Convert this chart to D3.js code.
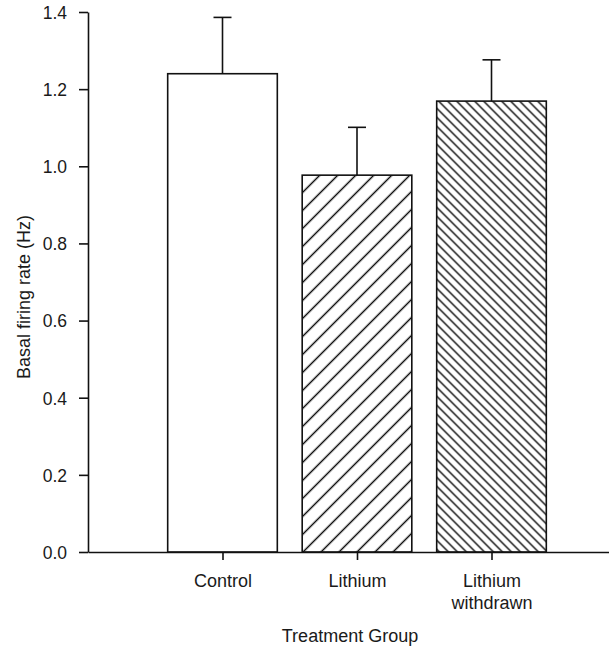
<!DOCTYPE html>
<html>
<head>
<meta charset="utf-8">
<script src="https://cdn.jsdelivr.net/npm/d3@7"></script>
<style>
  body { margin: 0; background: #fff; }
  svg text { font-family: "Liberation Sans", Arial, Helvetica, sans-serif; fill: #1a1a1a; }
</style>
</head>
<body>
<div id="chart"></div>
<script>
// values
var categories = ["Control", "Lithium", "Lithium withdrawn"];
var means = [1.24, 0.977, 1.169];
var sems = [0.146, 0.124, 0.107];
var yTicks = [0.0, 0.2, 0.4, 0.6, 0.8, 1.0, 1.2, 1.4];

function basalChart () {

  var width = 609, height = 652;

  var svg = d3.select("#chart")
    .append("svg")
    .attr("width", width)
    .attr("height", height);

  var defs = svg.append("defs");

  // hatch fills: "/" for lithium, dense "\" for withdrawn
  function hatch(id, gap, angle) {
    var p = defs.append("pattern")
      .attr("id", id)
      .attr("patternUnits", "userSpaceOnUse")
      .attr("width", gap)
      .attr("height", gap)
      .attr("patternTransform", "rotate(" + angle + ")");
    p.append("rect").attr("width", gap).attr("height", gap).attr("fill", "#fff");
    p.append("line")
      .attr("x1", gap / 2).attr("x2", gap / 2)
      .attr("y1", 0).attr("y2", gap)
      .attr("stroke", "#111")
      .attr("stroke-width", 1.5);
  }
  hatch("fwd", 18 / Math.SQRT2, 45);
  hatch("back", 9 / Math.SQRT2, -45);
  var fills = ["#fff", "url(#fwd)", "url(#back)"];

  var x = d3.scaleLinear()
    .domain([0, 4])
    .range([88, 626]);

  var y = d3.scaleLinear()
    .domain([0, 1.4])
    .range([552, 12]);

  var step = x(1) - x(0);
  var barW = step * 0.815;

  var data = categories.map((c, i) => ({ name: c, i: i + 1, mean: means[i], sem: sems[i] }));

  // bars
  svg.selectAll("rect.bar")
    .data(data)
    .enter()
    .append("rect")
    .attr("class", "bar")
    .attr("x", d => x(d.i) - barW / 2)
    .attr("width", barW)
    .attr("y", d => y(d.mean))
    .attr("height", d => y(0) - y(d.mean))
    .attr("fill", (d, i) => fills[i])
    .attr("stroke", "#111")
    .attr("stroke-width", 1.6);

  // error bars (upper only)
  var err = svg.selectAll("g.err")
    .data(data)
    .enter()
    .append("g")
    .attr("class", "err")
    .attr("stroke", "#111")
    .attr("stroke-width", 1.6);

  err.append("line")
    .attr("x1", d => x(d.i)).attr("x2", d => x(d.i))
    .attr("y1", d => y(d.mean)).attr("y2", d => y(d.mean + d.sem));

  err.append("line")
    .attr("x1", d => x(d.i) - 9).attr("x2", d => x(d.i) + 9)
    .attr("y1", d => y(d.mean + d.sem)).attr("y2", d => y(d.mean + d.sem));

  // axes
  var yAxis = d3.axisLeft(y)
    .tickValues(yTicks)
    .tickFormat(d3.format(".1f"))
    .tickSize(9)
    .tickSizeOuter(0)
    .tickPadding(12);

  var gy = svg.append("g")
    .attr("transform", "translate(88,0)")
    .call(yAxis);

  var xAxis = d3.axisBottom(x)
    .tickValues([1, 2, 3])
    .tickFormat(d => categories[d - 1])
    .tickSize(8)
    .tickSizeOuter(0)
    .tickPadding(14);

  var gx = svg.append("g")
    .attr("transform", "translate(0,552)")
    .call(xAxis);

  [gx, gy].forEach(g => {
    g.select(".domain").attr("stroke", "#111").attr("stroke-width", 1.6);
    g.selectAll(".tick line").attr("stroke", "#111").attr("stroke-width", 1.6);
  });
  gy.selectAll("text").style("font-size", "17.5px").attr("dy", "0.36em");
  gx.selectAll("text").style("font-size", "18px");

  // split the two-word label into two lines
  gx.selectAll(".tick text").each(function (d) {
    var words = categories[d - 1].split(" ");
    if (words.length < 2) return;
    var t = d3.select(this).text(null);
    words.forEach((w, k) => {
      t.append("tspan")
        .attr("x", 0)
        .attr("dy", k === 0 ? "0.71em" : "1.25em")
        .text(w);
    });
    t.attr("dy", null);
  });

  // axis titles
  svg.append("text")
    .attr("x", 350)
    .attr("y", 642)
    .attr("text-anchor", "middle")
    .style("font-size", "18px")
    .text("Treatment Group");

  svg.append("text")
    .attr("transform", "translate(30," + ((y(0) + y(1.4)) / 2 + 15) + ") rotate(-90)")
    .attr("text-anchor", "middle")
    .style("font-size", "18px")
    .text("Basal firing rate (Hz)");
}

basalChart();
</script>
</body>
</html>
